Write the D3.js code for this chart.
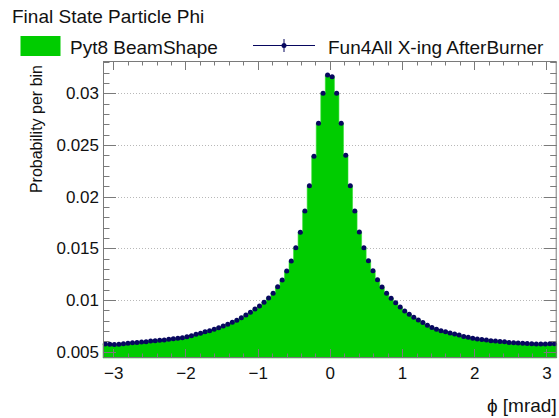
<!DOCTYPE html>
<html><head><meta charset="utf-8">
<script src="https://cdn.jsdelivr.net/npm/d3@7"></script>
<style>
html,body{margin:0;padding:0;background:#fff;}
svg{display:block;font-family:"Liberation Sans",Arial,Helvetica,sans-serif;}
</style></head>
<body>
<svg id="chart" width="559" height="418"></svg>
<script>
// ---- data ----
const title = "Final State Particle Phi";
const xTitle = "\u03D5 [mrad]";
const yTitle = "Probability per bin";
const legendLabels = ["Pyt8 BeamShape", "Fun4All X-ing AfterBurner"];
const xRange = [-Math.PI, Math.PI];
const yRange = [0.00439, 0.03312];
const xTickValues = [-3, -2, -1, 0, 1, 2, 3];
const xTickLabels = ["\u22123", "\u22122", "\u22121", "0", "1", "2", "3"];
const yTickValues = [0.005, 0.01, 0.015, 0.02, 0.025, 0.03];
const yTickLabels = ["0.005", "0.01", "0.015", "0.02", "0.025", "0.03"];
// histogram (Pyt8 BeamShape), 100 bins over [-pi, pi]
const pyt8Values = [
 0.00574, 0.00572, 0.00570, 0.00572, 0.00578, 0.00581, 0.00587, 0.00590, 0.00594, 0.00597,
 0.00603, 0.00606, 0.00610, 0.00613, 0.00620, 0.00626, 0.00630, 0.00635, 0.00645, 0.00655,
 0.00668, 0.00678, 0.00693, 0.00703, 0.00717, 0.00732, 0.00749, 0.00765, 0.00784, 0.00805,
 0.00829, 0.00856, 0.00881, 0.00913, 0.00942, 0.00978, 0.01020, 0.01065, 0.01129, 0.01193,
 0.01280, 0.01377, 0.01506, 0.01655, 0.01860, 0.02105, 0.02390, 0.02710, 0.03000, 0.03176,
 0.03160, 0.03000, 0.02710, 0.02400, 0.02105, 0.01861, 0.01658, 0.01506, 0.01380, 0.01283,
 0.01195, 0.01126, 0.01065, 0.01016, 0.00974, 0.00932, 0.00894, 0.00862, 0.00833, 0.00807,
 0.00782, 0.00755, 0.00734, 0.00717, 0.00703, 0.00692, 0.00682, 0.00671, 0.00662, 0.00648,
 0.00639, 0.00630, 0.00623, 0.00618, 0.00613, 0.00606, 0.00603, 0.00598, 0.00595, 0.00590,
 0.00587, 0.00585, 0.00581, 0.00580, 0.00577, 0.00575, 0.00574, 0.00574, 0.00576, 0.00578
];
// points (Fun4All X-ing AfterBurner), same binning
const fun4allValues = pyt8Values.slice();

// ---- layout ----
const frame = {left: 103, right: 556.7, top: 61, bottom: 358};
const tickFont = 17;
const svg = d3.select("#chart");
const x = d3.scaleLinear().domain(xRange).range([frame.left, frame.right]);
const y = d3.scaleLinear().domain(yRange).range([frame.bottom, frame.top]);
const nBins = pyt8Values.length;
const binW = (xRange[1] - xRange[0]) / nBins;
const edges = d3.range(nBins + 1).map(i => xRange[0] + i * binW);

// grid
svg.append("g").selectAll("line").data(yTickValues.filter(v => v > 0.0075)).join("line")
  .attr("x1", frame.left).attr("x2", frame.right)
  .attr("y1", d => Math.round(y(d)) + 0.5).attr("y2", d => Math.round(y(d)) + 0.5)
  .attr("stroke", "#b8b8b8").attr("stroke-width", 1).attr("stroke-dasharray", "1,2");

// histogram fill
const stepPts = [];
pyt8Values.forEach((v, i) => { stepPts.push([edges[i], v]); stepPts.push([edges[i + 1], v]); });
svg.append("path").datum(stepPts)
  .attr("d", d3.area().x(d => x(d[0])).y0(y(yRange[0])).y1(d => y(d[1])))
  .attr("fill", "#00cc00").attr("stroke", "#33dd33").attr("stroke-width", 0.6);

// markers
const centers = edges.slice(0, nBins).map(e => e + binW / 2);
svg.append("g").selectAll("circle").data(fun4allValues).join("circle")
  .attr("cx", (d, i) => x(centers[i])).attr("cy", d => y(d)).attr("r", 2.5)
  .attr("fill", "#07075f");

// frame
const axisColor = "#7a7a7a";
svg.append("rect").attr("x", frame.left + 0.5).attr("y", frame.top + 0.5)
  .attr("width", frame.right - frame.left - 1).attr("height", frame.bottom - frame.top - 1)
  .attr("fill", "none").attr("stroke", axisColor).attr("stroke-width", 1);

// ticks (ROOT style, inward, both sides)
const ticks = svg.append("g").attr("stroke", axisColor).attr("stroke-width", 1);
const xMinor = d3.range(-3.2, 3.21, 0.2).filter(v => v >= xRange[0] && v <= xRange[1]);
xMinor.forEach(v => {
  const isMajor = Math.abs(v - Math.round(v)) < 1e-6;
  const len = isMajor ? 9 : 4.5;
  const px = Math.round(x(v)) + 0.5;
  ticks.append("line").attr("x1", px).attr("x2", px).attr("y1", frame.bottom).attr("y2", frame.bottom - len);
  ticks.append("line").attr("x1", px).attr("x2", px).attr("y1", frame.top).attr("y2", frame.top + len);
});
const yMinor = d3.range(5, 34, 1).map(v => v / 1000).filter(v => v >= yRange[0] && v <= yRange[1]);
yMinor.forEach(v => {
  const isMajor = Math.round(v * 1000) % 5 === 0;
  const len = isMajor ? 13 : 6.5;
  const py = Math.round(y(v)) + 0.5;
  ticks.append("line").attr("y1", py).attr("y2", py).attr("x1", frame.left).attr("x2", frame.left + len);
  ticks.append("line").attr("y1", py).attr("y2", py).attr("x1", frame.right).attr("x2", frame.right - len);
});

// tick labels via d3 axes (lines hidden)
const xAxis = d3.axisBottom(x).tickValues(xTickValues).tickFormat((d, i) => xTickLabels[i]).tickSize(0).tickPadding(9);
const gx = svg.append("g").attr("transform", `translate(0,${frame.bottom})`).call(xAxis);
gx.select(".domain").remove();
gx.selectAll("text").attr("font-size", tickFont).attr("fill", "#111").attr("font-family", "Liberation Sans, Arial, sans-serif");

const yAxis = d3.axisLeft(y).tickValues(yTickValues).tickFormat((d, i) => yTickLabels[i]).tickSize(0).tickPadding(4);
const gy = svg.append("g").attr("transform", `translate(${frame.left},0)`).call(yAxis);
gy.select(".domain").remove();
gy.selectAll("text").attr("font-size", tickFont).attr("fill", "#111").attr("font-family", "Liberation Sans, Arial, sans-serif");

// titles
svg.append("text").attr("x", 12).attr("y", 23).attr("font-size", 19).attr("fill", "#111").text(title);
svg.append("text").attr("x", frame.right).attr("y", 412).attr("text-anchor", "end")
  .attr("font-size", 19).attr("fill", "#111").text(xTitle);
svg.append("text").attr("transform", `translate(42,65) rotate(-90)`).attr("text-anchor", "end")
  .attr("font-size", 16).attr("fill", "#111").text(yTitle);

// legend
svg.append("rect").attr("x", 20.5).attr("y", 36).attr("width", 40).attr("height", 20).attr("fill", "#00cc00");
svg.append("text").attr("x", 70).attr("y", 54).attr("font-size", 19).attr("fill", "#111").text(legendLabels[0]);
const lg = svg.append("g");
lg.append("line").attr("x1", 253).attr("x2", 315).attr("y1", 45.5).attr("y2", 45.5).attr("stroke", "#07075f").attr("stroke-width", 1);
lg.append("line").attr("x1", 284).attr("x2", 284).attr("y1", 39).attr("y2", 52).attr("stroke", "#07075f").attr("stroke-width", 1);
lg.append("circle").attr("cx", 284).attr("cy", 45.5).attr("r", 2.5).attr("fill", "#07075f");
svg.append("text").attr("x", 328).attr("y", 54).attr("font-size", 19).attr("fill", "#111").text(legendLabels[1]);
</script>
</body></html>
